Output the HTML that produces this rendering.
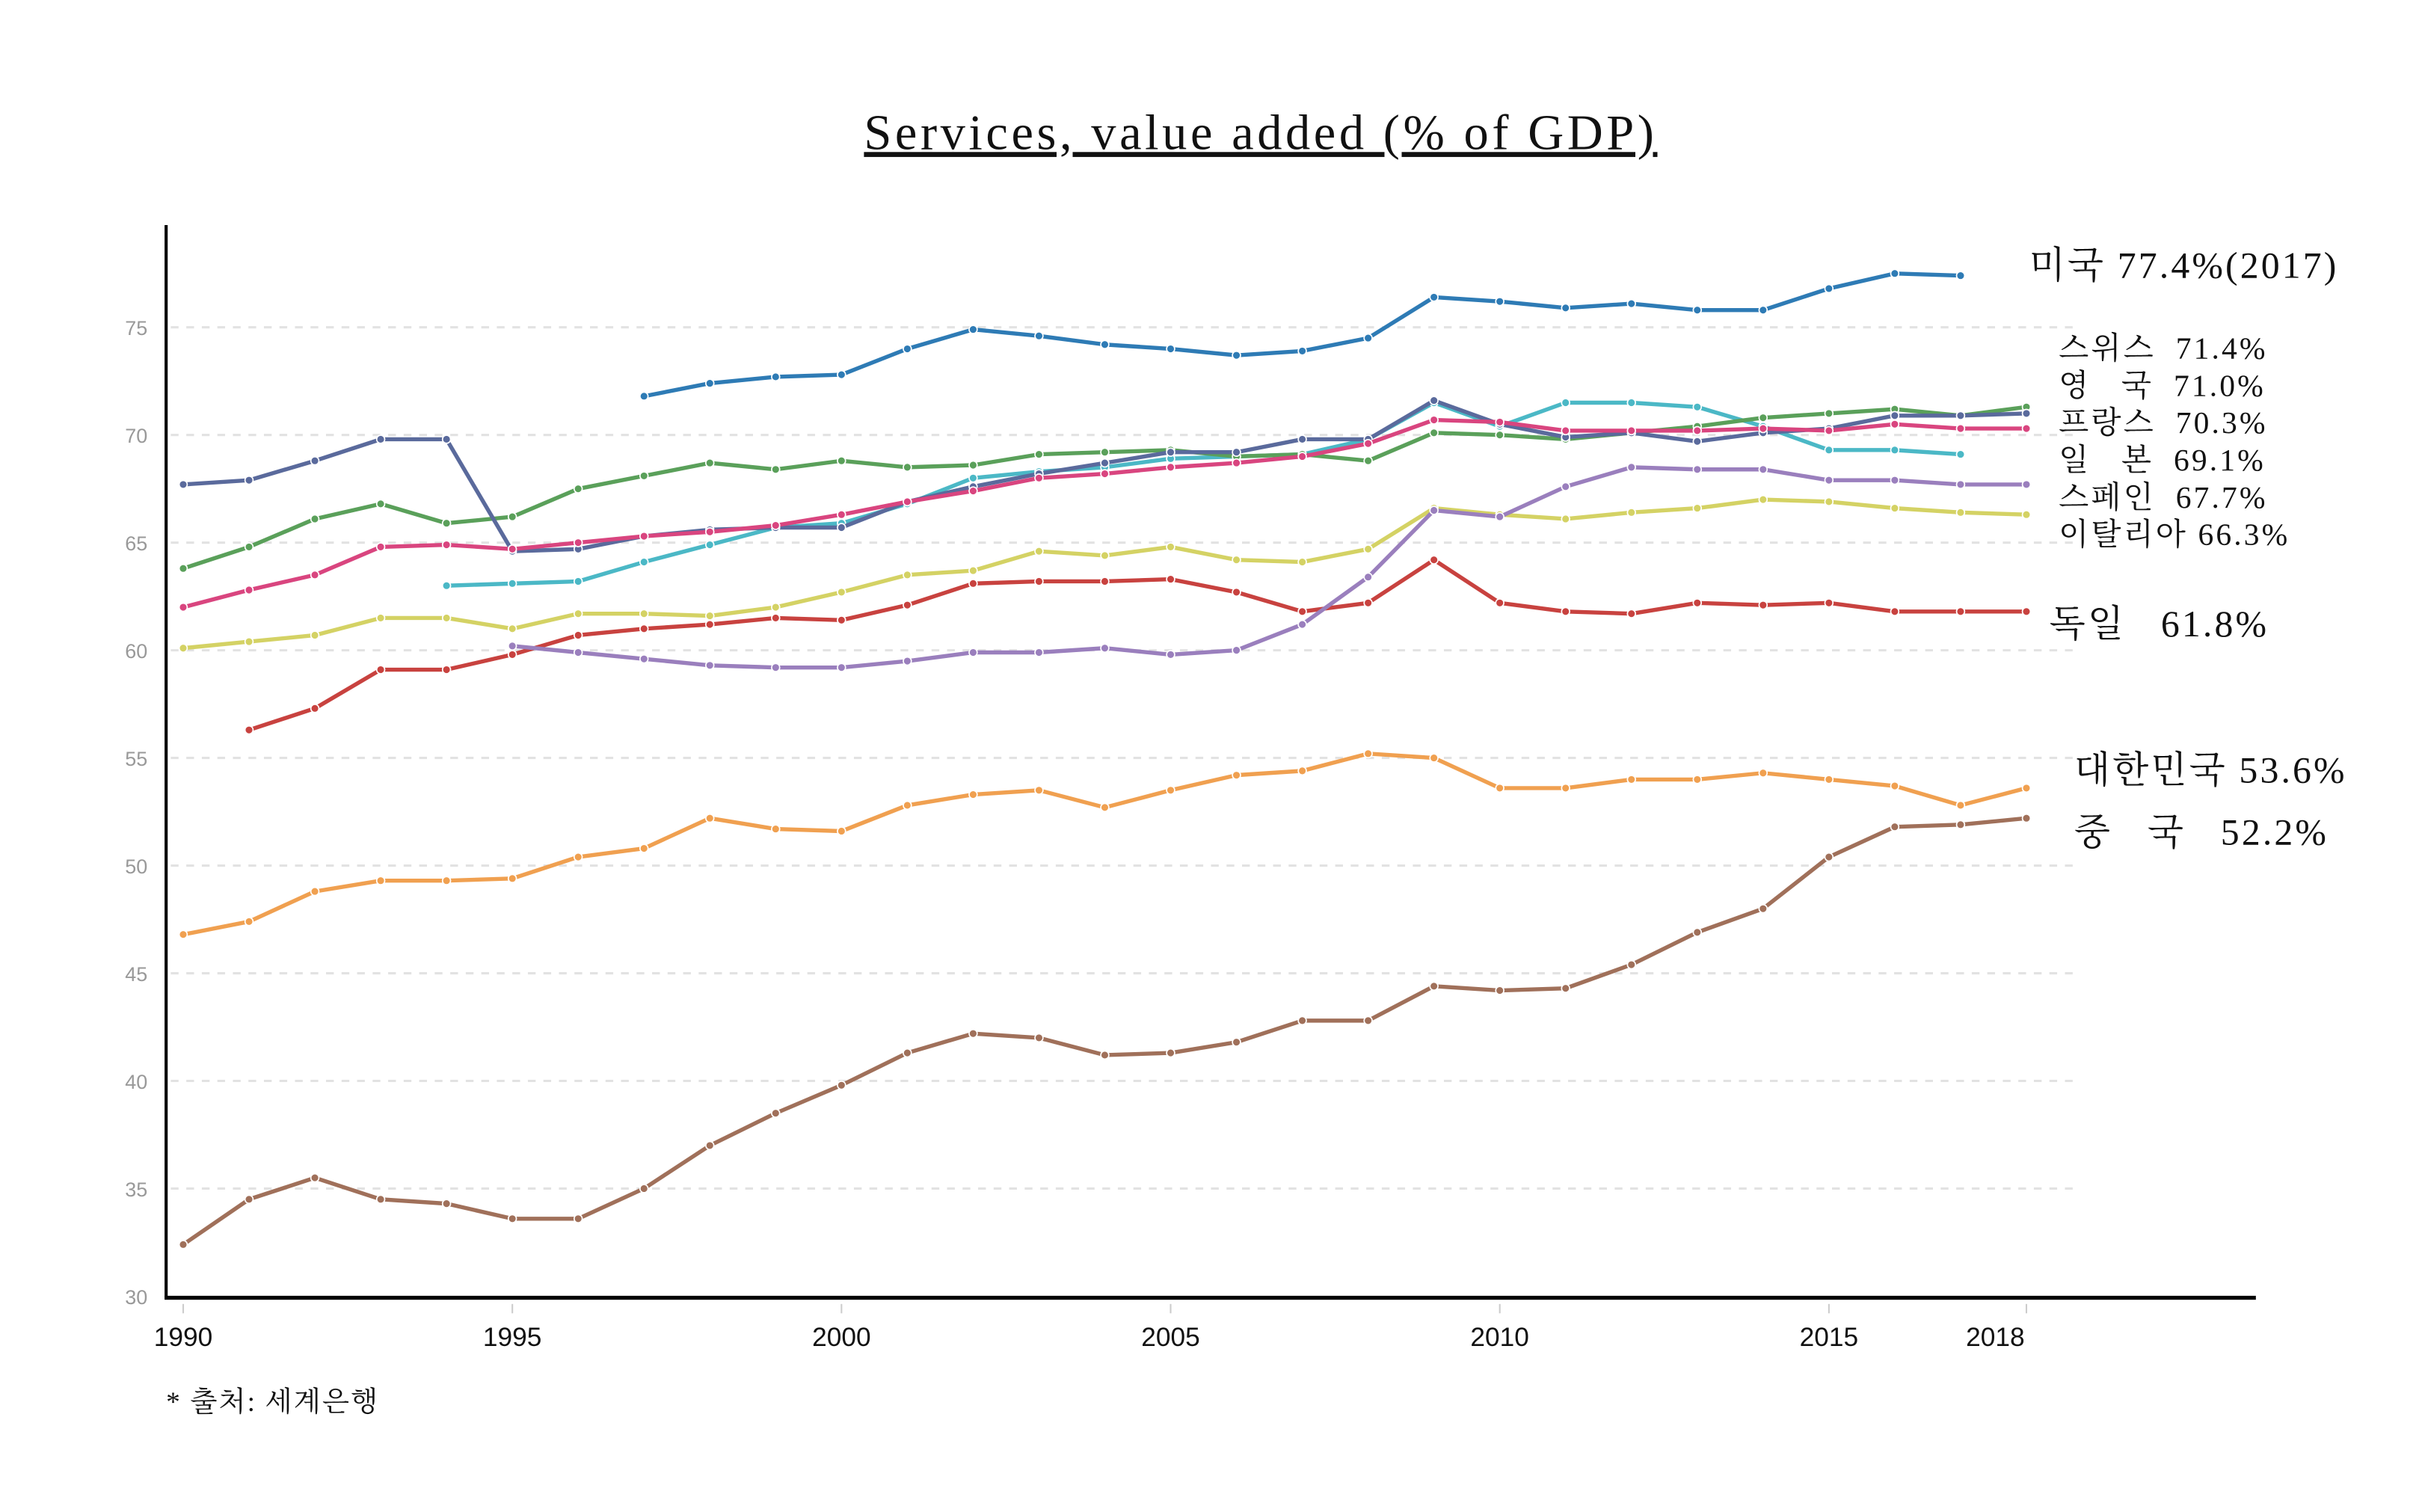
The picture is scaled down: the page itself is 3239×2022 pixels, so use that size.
<!DOCTYPE html>
<html><head><meta charset="utf-8"><style>
html,body{margin:0;padding:0;background:#fff;}
svg{display:block;}
.lab{font-family:"Liberation Serif","Noto Serif CJK SC",serif;fill:#111;white-space:pre;letter-spacing:1.5px;}
</style></head><body>
<svg id="chart" width="3239" height="2022" viewBox="0 0 1560 974" preserveAspectRatio="none" xmlns="http://www.w3.org/2000/svg">
<text x="812" y="96" text-anchor="middle" font-family="Liberation Serif, serif" font-size="32" letter-spacing="2.2" fill="#111" text-decoration="underline">Services, value added (% of GDP)</text>
<g id="grid"></g>
<g id="series"></g>
<line x1="107" y1="145" x2="107" y2="836" stroke="#000" stroke-width="2"/>
<line x1="106" y1="836" x2="1453" y2="836" stroke="#000" stroke-width="2.5"/>
<g>
<text x="1307" y="179" font-size="24" class="lab">미국 77.4%(2017)</text>
<text x="1326" y="231" font-size="20" class="lab">스위스  71.4%</text>
<text x="1326" y="255" font-size="20" class="lab">영   국  71.0%</text>
<text x="1326" y="279" font-size="20" class="lab">프랑스  70.3%</text>
<text x="1326" y="303" font-size="20" class="lab">일   본  69.1%</text>
<text x="1326" y="327" font-size="20" class="lab">스페인  67.7%</text>
<text x="1326" y="351" font-size="20" class="lab">이탈리아 66.3%</text>
<text x="1320" y="410" font-size="24" class="lab">독일   61.8%</text>
<text x="1336" y="504" font-size="24" class="lab">대한민국 53.6%</text>
<text x="1336" y="544" font-size="24" class="lab">중   국   52.2%</text>
</g>
<text x="107" y="909" font-size="18" letter-spacing="1" font-family="Liberation Serif, Noto Serif CJK SC, serif" fill="#111">* 출처: 세계은행</text>
</svg>
<script>
const yTicks=[30,35,40,45,50,55,60,65,70,75];
const xTicks=[1990,1995,2000,2005,2010,2015,2018];
const usa=[71.8,72.4,72.7,72.8,74.0,74.9,74.6,74.2,74.0,73.7,73.9,74.5,76.4,76.2,75.9,76.1,75.8,75.8,76.8,77.5,77.4];
const switzerland=[67.7,67.9,68.8,69.8,69.8,64.6,64.7,65.3,65.6,65.7,65.7,66.9,67.6,68.2,68.7,69.2,69.2,69.8,69.8,71.6,70.5,69.9,70.1,69.7,70.1,70.3,70.9,70.9,71.0];
const uk=[63.8,64.8,66.1,66.8,65.9,66.2,67.5,68.1,68.7,68.4,68.8,68.5,68.6,69.1,69.2,69.3,69.0,69.1,68.8,70.1,70.0,69.8,70.1,70.4,70.8,71.0,71.2,70.9,71.3];
const france=[62.0,62.8,63.5,64.8,64.9,64.7,65.0,65.3,65.5,65.8,66.3,66.9,67.4,68.0,68.2,68.5,68.7,69.0,69.6,70.7,70.6,70.2,70.2,70.2,70.3,70.2,70.5,70.3,70.3];
const japan=[63.0,63.1,63.2,64.1,64.9,65.7,65.9,66.8,68.0,68.3,68.5,68.9,69.0,69.1,69.8,71.5,70.4,71.5,71.5,71.3,70.4,69.3,69.3,69.1];
const spain=[60.2,59.9,59.6,59.3,59.2,59.2,59.5,59.9,59.9,60.1,59.8,60.0,61.2,63.4,66.5,66.2,67.6,68.5,68.4,68.4,67.9,67.9,67.7,67.7];
const italy=[60.1,60.4,60.7,61.5,61.5,61.0,61.7,61.7,61.6,62.0,62.7,63.5,63.7,64.6,64.4,64.8,64.2,64.1,64.7,66.6,66.3,66.1,66.4,66.6,67.0,66.9,66.6,66.4,66.3];
const germany=[56.3,57.3,59.1,59.1,59.8,60.7,61.0,61.2,61.5,61.4,62.1,63.1,63.2,63.2,63.3,62.7,61.8,62.2,64.2,62.2,61.8,61.7,62.2,62.1,62.2,61.8,61.8,61.8];
const korea=[46.8,47.4,48.8,49.3,49.3,49.4,50.4,50.8,52.2,51.7,51.6,52.8,53.3,53.5,52.7,53.5,54.2,54.4,55.2,55.0,53.6,53.6,54.0,54.0,54.3,54.0,53.7,52.8,53.6];
const china=[32.4,34.5,35.5,34.5,34.3,33.6,33.6,35.0,37.0,38.5,39.8,41.3,42.2,42.0,41.2,41.3,41.8,42.8,42.8,44.4,44.2,44.3,45.4,46.9,48.0,50.4,51.8,51.9,52.2];
const seriesList=[
 {name:'china',start:1990,vals:china,color:'#a0705a'},
 {name:'korea',start:1990,vals:korea,color:'#f0a050'},
 {name:'germany',start:1991,vals:germany,color:'#c8423f'},
 {name:'italy',start:1990,vals:italy,color:'#d4d264'},
 {name:'spain',start:1995,vals:spain,color:'#9a7fbd'},
 {name:'japan',start:1994,vals:japan,color:'#4bb8c6'},
 {name:'uk',start:1990,vals:uk,color:'#5aa05a'},
 {name:'switzerland',start:1990,vals:switzerland,color:'#5a6a9c'},
 {name:'france',start:1990,vals:france,color:'#d9457f'},
 {name:'usa',start:1997,vals:usa,color:'#2e7bb5'}
];
const NS='http://www.w3.org/2000/svg';
function xs(yr){return 118+(yr-1990)*42.4;}
function ys(v){return 835-(v-30)*13.87;}
const grid=document.getElementById('grid');
yTicks.forEach(t=>{
 if(t>30){const l=document.createElementNS(NS,'line');
 
 
 l.setAttribute('x1',110);l.setAttribute('x2',1340);l.setAttribute('y1',ys(t));l.setAttribute('y2',ys(t));
 l.setAttribute('stroke','#e2e2e2');l.setAttribute('stroke-width','1.5');l.setAttribute('stroke-dasharray','5 5');grid.appendChild(l);}
 const tx=document.createElementNS(NS,'text');
 
 
 tx.setAttribute('x',95);tx.setAttribute('y',ys(t)+5);tx.setAttribute('text-anchor','end');
 tx.setAttribute('font-size','13');tx.setAttribute('fill','#999');tx.setAttribute('font-family','Liberation Sans, sans-serif');
 tx.textContent=t;grid.appendChild(tx);
});
xTicks.forEach(t=>{
 const tk=document.createElementNS(NS,'line');
 
 
 tk.setAttribute('x1',xs(t));tk.setAttribute('x2',xs(t));tk.setAttribute('y1',840);tk.setAttribute('y2',846);
 tk.setAttribute('stroke','#ccc');grid.appendChild(tk);
 const tx=document.createElementNS(NS,'text');
 
 
 tx.setAttribute('x',t===2018?xs(t)-20:xs(t));tx.setAttribute('y',867);tx.setAttribute('text-anchor','middle');
 tx.setAttribute('font-size','17');tx.setAttribute('fill','#111');tx.setAttribute('font-family','Liberation Sans, sans-serif');
 tx.textContent=t;grid.appendChild(tx);
});
const sg=document.getElementById('series');
seriesList.forEach(s=>{
 const pts=s.vals.map((v,i)=>[xs(s.start+i),ys(v)]);
 const p=document.createElementNS(NS,'polyline');
 
 
 p.setAttribute('points',pts.map(q=>q.join(',')).join(' '));
 p.setAttribute('fill','none');p.setAttribute('stroke',s.color);p.setAttribute('stroke-width','2.6');p.setAttribute('stroke-linejoin','round');
 sg.appendChild(p);
 pts.forEach(q=>{
  const c=document.createElementNS(NS,'circle');
  
  
  c.setAttribute('cx',q[0]);c.setAttribute('cy',q[1]);c.setAttribute('r','2.6');
  c.setAttribute('fill',s.color);c.setAttribute('stroke','#fff');c.setAttribute('stroke-width','0.8');
  sg.appendChild(c);
 });
});
</script>
</body></html>
